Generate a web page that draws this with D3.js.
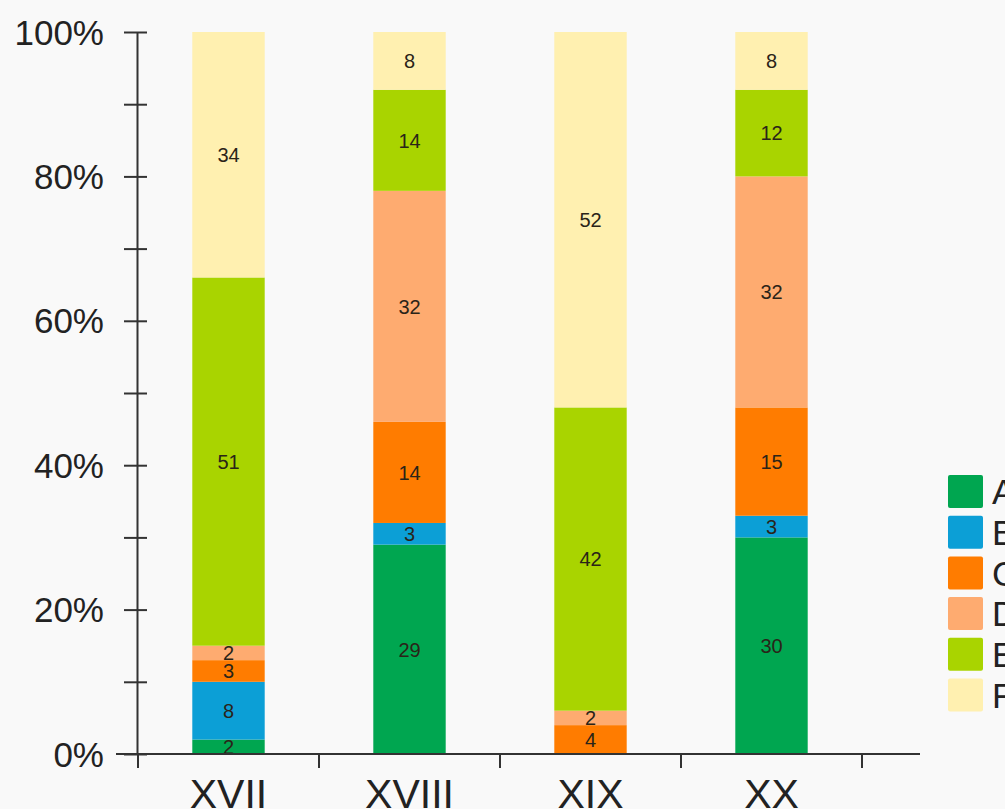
<!DOCTYPE html>
<html>
<head>
<meta charset="utf-8">
<script src="https://cdn.jsdelivr.net/npm/d3@7"></script>
<style>
  html, body { margin: 0; padding: 0; background: #f9f9f9; overflow: hidden; }
  svg { display: block; font-family: "Liberation Sans", Arial, sans-serif; }
</style>
</head>
<body>
<svg id="chart" width="1005" height="809"></svg>
<script>
// Centuries on the x axis
const centuries = ["XVII", "XVIII", "XIX", "XX"];
// Stack order, bottom to top
const groups = ["A", "B", "C", "D", "E", "F"];
const groupColors = ["#00a650", "#0c9fd6", "#ff7c00", "#feab70", "#a9d400", "#fff0b0"];
// Percentage share of each group per century
const valuesA = [2, 29, 0, 30];
const valuesB = [8, 3, 0, 3];
const valuesC = [3, 14, 4, 15];
const valuesD = [2, 32, 2, 32];
const valuesE = [51, 14, 42, 12];
const valuesF = [34, 8, 52, 8];
const yTickValues = [0, 10, 20, 30, 40, 50, 60, 70, 80, 90, 100];
const yLabelValues = [0, 20, 40, 60, 80, 100];

const seriesValues = [valuesA, valuesB, valuesC, valuesD, valuesE, valuesF];
const rows = centuries.map((c, i) => {
  const r = { century: c };
  groups.forEach((g, k) => { r[g] = seriesValues[k][i]; });
  return r;
});

const svg = d3.select("#chart");
const x = d3.scaleBand().domain(centuries).range([138, 862]).padding(0);
const y = d3.scaleLinear().domain([0, 100]).range([754, 32]);
const color = d3.scaleOrdinal().domain(groups).range(groupColors);

const stacked = d3.stack().keys(groups)(rows);
const barW = x.bandwidth() * 0.4;

// Bars
const layer = svg.append("g").selectAll("g")
  .data(stacked).join("g")
  .attr("fill", d => color(d.key));

layer.selectAll("rect")
  .data(d => d.filter(p => p[1] - p[0] > 0))
  .join("rect")
  .attr("x", p => x(p.data.century) + (x.bandwidth() - barW) / 2)
  .attr("width", barW)
  .attr("y", p => y(p[1]))
  .attr("height", p => y(p[0]) - y(p[1]));

// Value labels inside segments
layer.selectAll("text")
  .data(d => d.filter(p => p[1] - p[0] > 0).map(p => ({ p, key: d.key })))
  .join("text")
  .attr("x", o => x(o.p.data.century) + x.bandwidth() / 2)
  .attr("y", o => y((o.p[0] + o.p[1]) / 2))
  .attr("dy", "0.36em")
  .attr("text-anchor", "middle")
  .attr("font-size", 20)
  .attr("fill", "#2a2418")
  .text(o => o.p.data[o.key]);

// Y axis
const yAxis = svg.append("g").attr("transform", "translate(137,0)")
  .call(d3.axisLeft(y).tickValues(yTickValues).tickSize(0).tickFormat(""));
yAxis.select(".domain").attr("stroke", "#333").attr("stroke-width", 2);
yAxis.selectAll(".tick line").attr("x1", -13).attr("x2", 10)
  .attr("stroke", "#333").attr("stroke-width", 2);

svg.append("g").selectAll("text")
  .data(yLabelValues).join("text")
  .attr("x", 104)
  .attr("y", d => y(d))
  .attr("dy", "0.36em")
  .attr("text-anchor", "end")
  .attr("font-size", 35)
  .attr("fill", "#222")
  .text(d => d + "%");

// X axis: baseline, boundary ticks, century labels
const xAxis = svg.append("g");
xAxis.append("line")
  .attr("x1", 116).attr("x2", 920)
  .attr("y1", y(0)).attr("y2", y(0))
  .attr("stroke", "#333").attr("stroke-width", 2);
const bounds = centuries.map(c => x(c)).concat([x(centuries[centuries.length - 1]) + x.bandwidth()]);
xAxis.selectAll(".xt").data(bounds).join("line")
  .attr("class", "xt")
  .attr("x1", d => d).attr("x2", d => d)
  .attr("y1", y(0)).attr("y2", y(0) + 14)
  .attr("stroke", "#333").attr("stroke-width", 2);
xAxis.selectAll("text").data(centuries).join("text")
  .attr("x", c => x(c) + x.bandwidth() / 2)
  .attr("y", 808)
  .attr("text-anchor", "middle")
  .attr("font-size", 41)
  .attr("fill", "#222")
  .text(c => c);

// Legend
const legend = svg.append("g").selectAll("g")
  .data(groups).join("g")
  .attr("transform", (g, i) => `translate(948,${475 + i * 40.7})`);
legend.append("rect")
  .attr("width", 35).attr("height", 33).attr("rx", 2)
  .attr("fill", g => color(g));
legend.append("text")
  .attr("x", 44).attr("y", 16.5).attr("dy", "0.36em")
  .attr("font-size", 35).attr("fill", "#222")
  .text(g => g);
</script>
</body>
</html>
